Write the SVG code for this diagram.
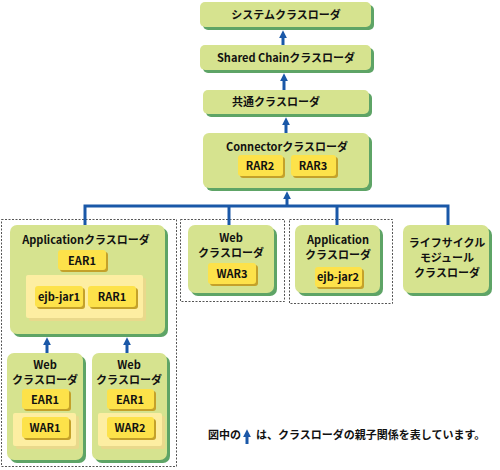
<svg xmlns="http://www.w3.org/2000/svg" width="500" height="470" viewBox="0 0 500 470">
<defs>
<style>
.g{fill:#d6e38f}
.gs{fill:#5ea466}
.y{fill:#fde24a}
.ys{fill:#c4a12a}
.p{fill:#fdeea2}
.ps{fill:#e9d98c}
.d{fill:none;stroke:#555;stroke-width:1;stroke-dasharray:2,1.5}
.ln{fill:none;stroke:#1a58a8;stroke-width:3}
text{font-family:"Noto Sans CJK JP","Liberation Sans",sans-serif;font-weight:bold;font-size:11px;fill:#111;text-anchor:middle}
</style>
<marker id="ah" viewBox="0 0 10 10" refX="4" refY="5" markerWidth="8" markerHeight="8" orient="auto" markerUnits="userSpaceOnUse">
<path d="M0,0 L10,5 L0,10 Z" fill="#1a58a8"/>
</marker>
</defs>
<rect width="500" height="470" fill="#fff"/>

<g id="groups">
<rect class="d" x="1.5" y="219.5" width="175" height="247"/>
<rect class="d" x="180.5" y="219.5" width="104" height="82"/>
<rect class="d" x="289.5" y="219.5" width="103" height="84"/>
</g>

<g id="connectors">
<polyline class="ln" points="85,225 85,206 448,206 448,225"/>
<line class="ln" x1="229" y1="206" x2="229" y2="225"/>
<line class="ln" x1="337" y1="206" x2="337" y2="225"/>
<line class="ln" x1="287" y1="206" x2="287" y2="196" marker-end="url(#ah)"/>
<line class="ln" x1="283" y1="45" x2="283" y2="35" marker-end="url(#ah)"/>
<line class="ln" x1="284" y1="90" x2="284" y2="78" marker-end="url(#ah)"/>
<line class="ln" x1="286" y1="133" x2="286" y2="122" marker-end="url(#ah)"/>
<line class="ln" x1="47" y1="353" x2="47" y2="342" marker-end="url(#ah)"/>
<line class="ln" x1="127" y1="353" x2="127" y2="342" marker-end="url(#ah)"/>
</g>

<g id="system">
<rect class="gs" x="203" y="5" width="171" height="25" rx="5"/>
<rect class="g" x="200" y="2" width="171" height="25" rx="5"/>
<text x="286" y="19">システムクラスローダ</text>
</g>

<g id="shared">
<rect class="gs" x="203" y="48" width="171" height="25" rx="5"/>
<rect class="g" x="200" y="45" width="171" height="25" rx="5"/>
<text x="286" y="62">Shared Chainクラスローダ</text>
</g>

<g id="common">
<rect class="gs" x="206" y="93" width="166" height="24" rx="5"/>
<rect class="g" x="203" y="90" width="166" height="24" rx="5"/>
<text x="276" y="106">共通クラスローダ</text>
</g>

<g id="connector">
<rect class="gs" x="206" y="136" width="166" height="55" rx="6"/>
<rect class="g" x="203" y="133" width="166" height="55" rx="6"/>
<text x="287" y="151">Connectorクラスローダ</text>
<rect class="ys" x="240" y="157" width="45" height="21" rx="3"/>
<rect class="y" x="238" y="155" width="45" height="21" rx="3"/>
<text x="260" y="170">RAR2</text>
<rect class="ys" x="293" y="157" width="45" height="21" rx="3"/>
<rect class="y" x="291" y="155" width="45" height="21" rx="3"/>
<text x="313" y="170">RAR3</text>
</g>

<g id="app1">
<rect class="gs" x="13" y="228" width="155" height="109" rx="7"/>
<rect class="g" x="10" y="225" width="155" height="109" rx="7"/>
<text x="86" y="244">Applicationクラスローダ</text>
<rect class="ys" x="60" y="252" width="48" height="20" rx="3"/>
<rect class="y" x="58" y="250" width="48" height="20" rx="3"/>
<text x="82" y="265">EAR1</text>
<rect class="ps" x="29" y="278" width="117" height="43" rx="2"/>
<rect class="p" x="26" y="275" width="117" height="43" rx="2"/>
<rect class="ys" x="37" y="288" width="48" height="21" rx="3"/>
<rect class="y" x="35" y="286" width="48" height="21" rx="3"/>
<text x="59" y="301">ejb-jar1</text>
<rect class="ys" x="90" y="288" width="48" height="21" rx="3"/>
<rect class="y" x="88" y="286" width="48" height="21" rx="3"/>
<text x="112" y="301">RAR1</text>
</g>

<g id="web1">
<rect class="gs" x="10" y="356" width="76" height="107" rx="7"/>
<rect class="g" x="7" y="353" width="76" height="107" rx="7"/>
<text x="45" y="369">Web</text>
<text x="45" y="384">クラスローダ</text>
<rect class="ys" x="24" y="391" width="47" height="20" rx="3"/>
<rect class="y" x="22" y="389" width="47" height="20" rx="3"/>
<text x="45" y="404">EAR1</text>
<rect class="ps" x="16" y="416" width="63" height="33" rx="2"/>
<rect class="p" x="13" y="413" width="63" height="33" rx="2"/>
<rect class="ys" x="24" y="419" width="47" height="21" rx="3"/>
<rect class="y" x="22" y="417" width="47" height="21" rx="3"/>
<text x="45" y="432">WAR1</text>
</g>

<g id="web2">
<rect class="gs" x="95" y="356" width="75" height="107" rx="7"/>
<rect class="g" x="92" y="353" width="75" height="107" rx="7"/>
<text x="129" y="369">Web</text>
<text x="129" y="384">クラスローダ</text>
<rect class="ys" x="109" y="391" width="47" height="20" rx="3"/>
<rect class="y" x="107" y="389" width="47" height="20" rx="3"/>
<text x="130" y="404">EAR1</text>
<rect class="ps" x="101" y="416" width="64" height="33" rx="2"/>
<rect class="p" x="98" y="413" width="64" height="33" rx="2"/>
<rect class="ys" x="109" y="419" width="47" height="21" rx="3"/>
<rect class="y" x="107" y="417" width="47" height="21" rx="3"/>
<text x="130" y="432">WAR2</text>
</g>

<g id="web3">
<rect class="gs" x="191" y="228" width="86" height="68" rx="7"/>
<rect class="g" x="188" y="225" width="86" height="68" rx="7"/>
<text x="231" y="242">Web</text>
<text x="231" y="257">クラスローダ</text>
<rect class="ys" x="210" y="265" width="48" height="21" rx="3"/>
<rect class="y" x="208" y="263" width="48" height="21" rx="3"/>
<text x="232" y="278">WAR3</text>
</g>

<g id="app2">
<rect class="gs" x="298" y="228" width="85" height="68" rx="7"/>
<rect class="g" x="295" y="225" width="85" height="68" rx="7"/>
<text x="338" y="244">Application</text>
<text x="338" y="259">クラスローダ</text>
<rect class="ys" x="317" y="269" width="47" height="20" rx="3"/>
<rect class="y" x="315" y="267" width="47" height="20" rx="3"/>
<text x="338" y="281">ejb-jar2</text>
</g>

<g id="lifecycle">
<rect class="gs" x="406" y="228" width="86" height="68" rx="7"/>
<rect class="g" x="403" y="225" width="86" height="68" rx="7"/>
<text x="447" y="247">ライフサイクル</text>
<text x="447" y="262">モジュール</text>
<text x="447" y="277">クラスローダ</text>
</g>

<g id="legend">
<text x="208" y="439" style="text-anchor:start">図中の</text>
<line class="ln" x1="247" y1="444" x2="247" y2="434" marker-end="url(#ah)"/>
<text x="256" y="439" style="text-anchor:start">は、クラスローダの親子関係を表しています。</text>
</g>
</svg>
